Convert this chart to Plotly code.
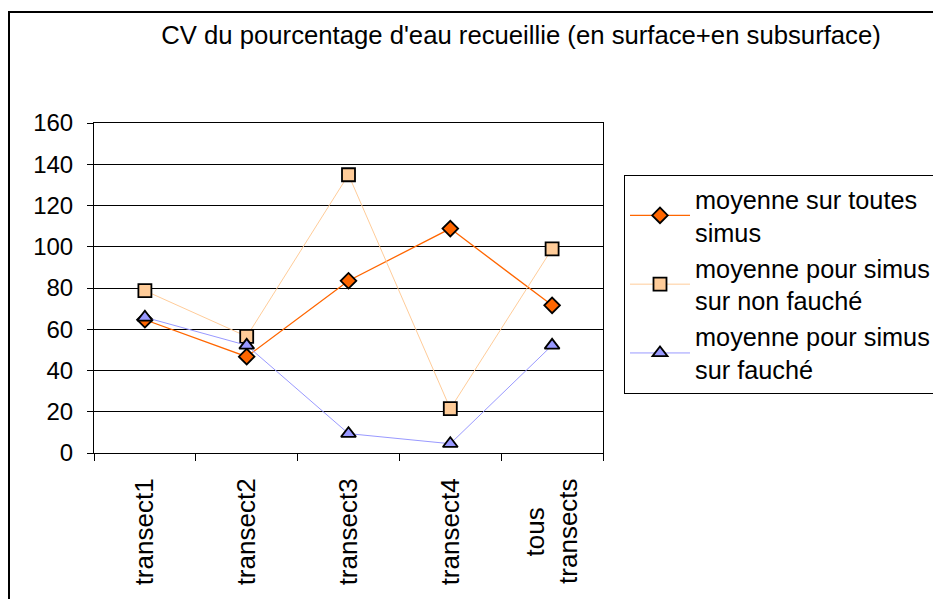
import plotly.graph_objects as go

categories = ["transect1", "transect2", "transect3", "transect4",
              "tous&nbsp;&nbsp;&nbsp;&nbsp;<br>transects"]

moy_toutes = [64.6, 46.7, 83.5, 108.8, 71.6]
moy_non_fauche = [78.7, 56.5, 134.9, 21.5, 99.0]
moy_fauche = [65.8, 52.2, 9.4, 4.5, 52.2]

series_names = [
    "moyenne sur toutes<br>simus",
    "moyenne pour simus<br>sur non fauché",
    "moyenne pour simus<br>sur fauché",
]

y_ticks = [0, 20, 40, 60, 80, 100, 120, 140, 160]

FONT = "Liberation Sans, Arial, sans-serif"

fig = go.Figure()

fig.add_trace(go.Scatter(
    x=categories, y=moy_toutes, name=series_names[0], mode="lines+markers",
    line=dict(color="#FF6600", width=1.3),
    marker=dict(symbol="diamond", size=12, color="#FF6600",
                line=dict(color="#000000", width=1.8)),
))
fig.add_trace(go.Scatter(
    x=categories, y=moy_non_fauche, name=series_names[1], mode="lines+markers",
    line=dict(color="#FFCC99", width=1),
    marker=dict(symbol="square", size=13, color="#FFCC99",
                line=dict(color="#000000", width=1.8)),
))
fig.add_trace(go.Scatter(
    x=categories, y=moy_fauche, name=series_names[2], mode="lines+markers",
    line=dict(color="#9999FF", width=1),
    marker=dict(symbol="triangle-up", size=13, color="#9999FF",
                line=dict(color="#000000", width=1.8)),
))

# the page body adds 8px, so work in screen px and shift back
OFF = 8
W, H = 941, 599
L, R, T, B = 94 - OFF, 603 - OFF, 123 - OFF, 453 - OFF
pw, ph = R - L, B - T

fig.update_layout(
    width=W, height=H,
    margin=dict(l=L, r=W - R, t=T, b=H - B, autoexpand=False),
    paper_bgcolor="white",
    plot_bgcolor="white",
    font=dict(family=FONT, size=24, color="#000000"),
    title=dict(
        text="CV du pourcentage d'eau recueillie (en surface+en subsurface)",
        x=(521 - OFF) / W, xref="container", xanchor="center",
        y=1 - (35 - OFF) / H, yref="container", yanchor="middle",
        font=dict(family=FONT, size=25.7, color="#000000"),
    ),
    legend=dict(
        x=(624 - OFF - L) / pw, xanchor="left",
        y=(B - (175 - OFF)) / ph, yanchor="top",
        bordercolor="#000000", borderwidth=1,
        bgcolor="white",
        itemwidth=60,
        font=dict(family=FONT, size=25.3, color="#000000"),
    ),
    showlegend=True,
)

fig.update_xaxes(
    type="category",
    showline=True, linecolor="#000000", linewidth=1, mirror=True,
    showgrid=False,
    ticks="outside", ticklen=7, tickcolor="#000000", tickson="boundaries",
    tickangle=-90,
    ticklabelstandoff=14,
    tickfont=dict(family=FONT, size=26),
    range=[-0.5, 4.5],
)
fig.update_yaxes(
    range=[0, 160],
    tickvals=y_ticks,
    showline=True, linecolor="#000000", linewidth=1, mirror=True,
    showgrid=True, gridcolor="#000000", gridwidth=1,
    ticks="outside", ticklen=6, tickcolor="#000000",
    ticklabelstandoff=9,
    tickfont=dict(family=FONT, size=24),
    zeroline=False,
)

# outer chart frame (left and top edges visible)
fig.add_shape(
    type="rect", xref="paper", yref="paper",
    x0=(1 - L) / pw, x1=(W + 10 - L) / pw,
    y0=(B - (H + 10)) / ph, y1=(B - 4) / ph,
    line=dict(color="#000000", width=2),
    fillcolor="rgba(0,0,0,0)", layer="below",
)

fig.write_html("out.html")
